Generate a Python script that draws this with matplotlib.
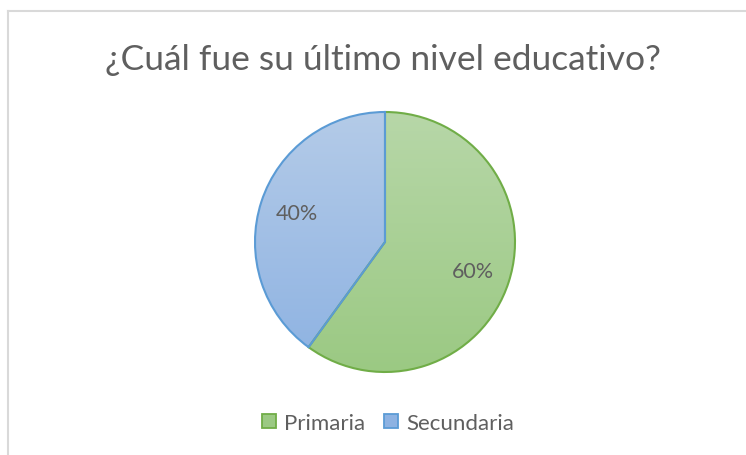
import numpy as np
import matplotlib.pyplot as plt
from matplotlib.lines import Line2D

labels = ['Primaria', 'Secundaria']
values = [60, 40]
edge_colors = ['#70ad47', '#5b9bd5']
# gradient top -> bottom for each slice
fill_top = ['#b7d7a8', '#b4cbe8']
fill_bottom = ['#9bc983', '#8db2e2']

title = '¿Cuál fue su último nivel educativo?'
text_color = '#5f5f5f'

plt.rcParams['font.family'] = ['Lato', 'DejaVu Sans']

fig = plt.figure(figsize=(7.46, 4.56), dpi=100)
ax = fig.add_axes([0, 0, 1, 1])

cx, cy, r = 385, 456 - 243, 130
wedges, texts, autotexts = ax.pie(
    values, labels=None, colors=edge_colors, startangle=90, counterclock=False,
    center=(cx, cy), radius=r, autopct='%1.0f%%', pctdistance=0.71,
    wedgeprops=dict(linewidth=1.5), textprops=dict(color=text_color, fontsize=15.5))

# vertical gradient fill clipped to each slice
grad = np.linspace(0, 1, 256)[:, None]
for w, top, bot in zip(wedges, fill_top, fill_bottom):
    c1 = np.array(plt.matplotlib.colors.to_rgb(top))
    c2 = np.array(plt.matplotlib.colors.to_rgb(bot))
    img = c1 + (c2 - c1) * grad[..., None]
    im = ax.imshow(img, extent=(cx - r, cx + r, cy - r, cy + r), origin='upper',
                   zorder=0.5, interpolation='bilinear')
    im.set_clip_path(w)
    w.set_facecolor('none')
for w, ec in zip(wedges, edge_colors):
    w.set_edgecolor(ec)
    w.set_zorder(2)
for t in autotexts:
    t.set_zorder(3)

ax.set_xlim(0, 746)
ax.set_ylim(0, 456)
ax.set_aspect('auto')
ax.axis('off')

ax.text(383, 456 - 60, title, ha='center', va='center', fontsize=25.5, color=text_color)

handles = [Line2D([], [], marker='s', linestyle='none', markersize=10,
                  markerfacecolor=fb, markeredgecolor=ec, markeredgewidth=1.3)
           for fb, ec in zip(fill_bottom, edge_colors)]
ax.legend(handles, labels, loc='center', bbox_to_anchor=(387 / 746, 1 - 424 / 456),
          ncol=2, frameon=False, fontsize=16, labelcolor=text_color,
          handletextpad=0.25, columnspacing=0.8, handlelength=0.8)

# chart area border (top and left edges visible)
fig.add_artist(Line2D([8 / 746, 8 / 746], [0, 1 - 12 / 456], color='#d9d9d9', lw=1.5))
fig.add_artist(Line2D([8 / 746, 1], [1 - 12 / 456, 1 - 12 / 456], color='#d9d9d9', lw=1.5))

fig.savefig('out.png', dpi=100)
